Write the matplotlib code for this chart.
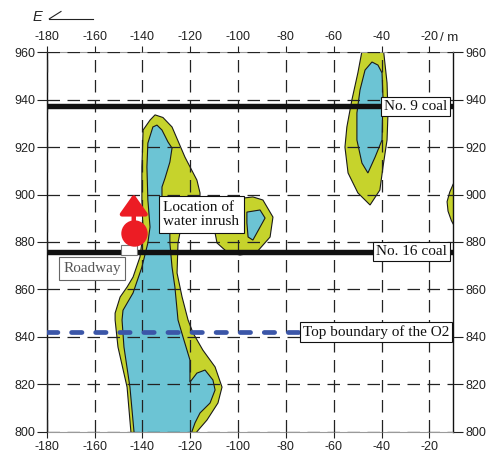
import matplotlib

matplotlib.use("Agg")
import matplotlib.pyplot as plt
from matplotlib.lines import Line2D
from matplotlib.patches import Polygon, Rectangle

# axis ranges / ticks
X_TICKS = [-180, -160, -140, -120, -100, -80, -60, -40, -20]
Y_TICKS = [800, 820, 840, 860, 880, 900, 920, 940, 960]

# water-rich zone outlines (x = distance in m, y = elevation)
main_outer_x = [-134.7, -131.4, -127.6, -122.2, -117.2, -115.9, -115.9, -118.0, -122.2, -124.3,
                -125.1, -125.5, -123.4, -120.9, -118.8, -114.7, -109.6, -106.7, -108.4, -113.0,
                -117.2, -117.2, -144.8, -144.8, -146.4, -150.2, -151.4, -151.4, -149.3, -146.4,
                -143.9, -141.0, -139.7, -140.2, -140.2, -139.7, -136.8]
main_outer_y = [933.6, 932.5, 928.5, 915.8, 906.1, 900.7, 897.7, 891.4, 887.3, 883.8,
                879.6, 866.9, 856.8, 847.1, 841.6, 834.4, 827.3, 818.8, 812.1, 804.9,
                800.0, 797.0, 797.0, 800.0, 818.8, 835.7, 847.1, 850.0, 856.8, 861.0,
                865.2, 873.7, 883.8, 897.7, 911.6, 927.2, 931.4]

main_inner_x = [-133.9, -131.8, -129.3, -127.6, -128.5, -130.5, -131.8, -131.8, -130.5, -128.5,
                -128.5, -127.6, -126.4, -125.1, -123.0, -120.1, -120.1, -117.2, -113.8, -110.5,
                -109.6, -111.7, -115.9, -118.0, -119.3, -119.3, -143.5, -143.5, -145.2, -147.7,
                -148.5, -148.1, -143.9, -140.2, -137.7, -136.8, -137.7, -138.1, -137.7, -135.6]
main_inner_y = [929.3, 927.2, 922.2, 919.6, 913.7, 907.0, 903.2, 898.5, 891.4, 883.8,
                879.6, 869.4, 861.0, 847.1, 839.9, 830.2, 820.9, 824.7, 826.0, 821.8,
                817.6, 812.1, 807.9, 803.7, 800.0, 797.0, 797.0, 800.0, 818.8, 835.7,
                847.1, 851.2, 858.5, 869.4, 879.6, 886.3, 897.7, 911.6, 921.7, 928.5]

mid_outer_x = [-93.8, -89.6, -85.4, -86.6, -92.1, -99.2, -104.6, -108.8, -109.6, -105.4, -97.9]
mid_outer_y = [899.0, 897.7, 890.5, 882.1, 875.8, 874.5, 875.8, 879.6, 883.8, 891.4, 898.5]
mid_inner_x = [-96.3, -90.8, -88.7, -93.8, -95.8, -96.3]
mid_inner_y = [892.6, 893.5, 890.1, 880.8, 882.1, 888.0]

ne_outer_x = [-47.9, -49.9, -52.4, -54.5, -55.3, -54.0, -49.9, -44.8, -40.7, -39.4,
              -37.7, -37.3, -37.7, -39.3]
ne_outer_y = [962.0, 951.3, 939.9, 928.5, 920.0, 909.1, 900.7, 895.6, 901.9, 911.6,
              923.0, 934.4, 947.1, 962.0]
ne_inner_x = [-44.0, -41.5, -39.8, -39.4, -39.8, -42.7, -45.7, -48.2, -50.3, -50.3, -49.0, -46.9]
ne_inner_y = [955.9, 954.6, 951.3, 941.1, 923.0, 915.8, 909.1, 913.3, 923.0, 934.4, 944.1, 952.5]

edge_outer_x = [-10.0, -11.5, -12.6, -12.2, -10.8, -10.0, -8.0, -8.0]
edge_outer_y = [904.5, 901.0, 897.0, 893.0, 889.0, 887.5, 887.5, 904.5]

# reference levels
coal9_y = 937.2
coal16_y = 875.8
o2_top_y = 842.0

# water inrush point and roadway
inrush_x = -143.6
inrush_y = 883.9
arrow_tip_y = 900.3
roadway_x = (-149.1, -142.4)
roadway_y = (874.5, 878.7)

YELLOW = "#c6d32c"
CYAN = "#6cc4d4"
RED = "#ec1c24"
BLUE = "#3b56a8"

SERIF = ["Liberation Serif", "DejaVu Serif"]


def _zone(ax, xs, ys, color):
    ax.add_patch(Polygon(list(zip(xs, ys)), closed=True, facecolor=color,
                         edgecolor="#1a1a1a", linewidth=0.8, zorder=1))


def _label(ax, x, y, text, ha="left", color="#111111", edge="#111111", pad=0.2):
    ax.text(x, y, text, ha=ha, va="center", fontsize=11, family=SERIF, color=color,
            linespacing=1.1, zorder=8,
            bbox=dict(boxstyle=f"square,pad={pad}", facecolor="white", edgecolor=edge, linewidth=0.8))


def main() -> None:
    plt.rcParams["font.family"] = ["Liberation Sans", "DejaVu Sans"]
    plt.rcParams["axes.unicode_minus"] = False
    fig = plt.figure(figsize=(4.86, 4.59), dpi=100)
    ax = fig.add_axes([0.0961, 0.0595, 0.8366, 0.8266])

    ax.set_xlim(-180, -10)
    ax.set_ylim(800, 960)
    ax.set_xticks(X_TICKS)
    ax.set_yticks(Y_TICKS)
    ax.grid(True, color="#222222", linestyle=(0, (10, 6)), linewidth=0.9)
    ax.set_axisbelow(False)
    for g in ax.get_xgridlines() + ax.get_ygridlines():
        g.set_zorder(2)

    ax.tick_params(axis="y", which="both", left=True, right=True, labelleft=True, labelright=True,
                   direction="out", length=7.5, width=0.8, pad=1, labelsize=9, colors="#222222")
    ax.tick_params(axis="x", which="both", top=True, bottom=True, labeltop=True, labelbottom=True,
                   direction="out", length=4.5, width=0.8, pad=2, labelsize=9, colors="#222222")
    for side in ("left", "right"):
        ax.spines[side].set_color("#111111")
        ax.spines[side].set_linewidth(1.0)
    for side in ("top", "bottom"):
        ax.spines[side].set_color("#9a9a9a")
        ax.spines[side].set_linewidth(0.8)

    # water-rich zones
    _zone(ax, main_outer_x, main_outer_y, YELLOW)
    _zone(ax, main_inner_x, main_inner_y, CYAN)
    _zone(ax, mid_outer_x, mid_outer_y, YELLOW)
    _zone(ax, mid_inner_x, mid_inner_y, CYAN)
    _zone(ax, ne_outer_x, ne_outer_y, YELLOW)
    _zone(ax, ne_inner_x, ne_inner_y, CYAN)
    _zone(ax, edge_outer_x, edge_outer_y, YELLOW)

    # coal seams and O2 top
    ax.plot([-180, -10], [coal9_y, coal9_y], color="#111111", linewidth=3.9,
            solid_capstyle="butt", zorder=3)
    ax.plot([-180, -10], [coal16_y, coal16_y], color="#111111", linewidth=3.9,
            solid_capstyle="butt", zorder=3)
    ax.plot([-180, -74], [o2_top_y, o2_top_y], color=BLUE, linewidth=3.4,
            linestyle=(0, (2.2, 2.9)), dash_capstyle="round", zorder=3)

    _label(ax, -39.0, coal9_y, "No. 9 coal")
    _label(ax, -42.3, coal16_y, "No. 16 coal")
    _label(ax, -73.0, o2_top_y, "Top boundary of the O2")
    _label(ax, -131.3, 891.6, "Location of\nwater inrush", pad=0.3)
    _label(ax, -161.1, 868.8, "Roadway", ha="center", color="#555555", edge="#666666", pad=0.3)

    # roadway section and inrush point
    ax.add_patch(Rectangle((roadway_x[0], roadway_y[0]), roadway_x[1] - roadway_x[0],
                           roadway_y[1] - roadway_y[0], facecolor="white",
                           edgecolor="#777777", linewidth=0.8, zorder=6))
    ax.annotate("", xy=(inrush_x, arrow_tip_y), xytext=(inrush_x, inrush_y),
                arrowprops=dict(arrowstyle="-|>,head_length=1.2,head_width=0.85",
                                color=RED, linewidth=3.2, mutation_scale=10,
                                shrinkA=0, shrinkB=0),
                zorder=7)
    ax.plot([inrush_x], [inrush_y], marker="o", markersize=19, color=RED,
            markeredgewidth=0, zorder=7)

    # direction / unit marks
    fig.text(0.066, 0.964, "E", fontsize=10.5, style="italic", color="#222222", ha="left", va="center")
    fig.add_artist(Line2D([0.1015, 0.1255], [0.959, 0.975], color="#222222", linewidth=0.8))
    fig.add_artist(Line2D([0.1015, 0.191], [0.959, 0.959], color="#222222", linewidth=0.8))
    fig.text(0.925, 0.918, "/ m", fontsize=9.5, color="#222222", ha="center", va="center")

    fig.savefig("out.png", dpi=100)


if __name__ == "__main__":
    main()
